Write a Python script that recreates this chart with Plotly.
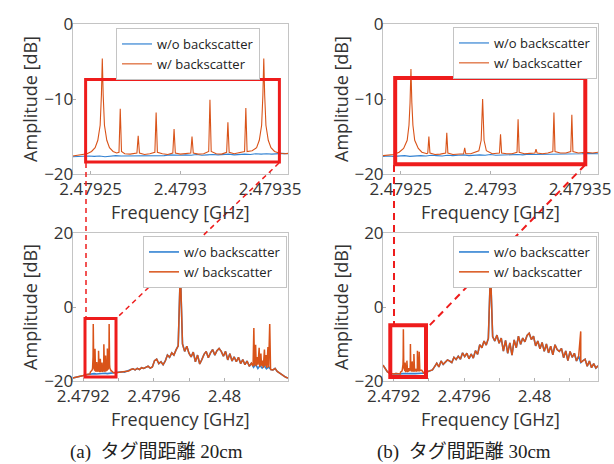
import numpy as np
import plotly.graph_objects as go

# ---------------- data ----------------
# wideband sweep (lower panels): frequency bins [GHz]
F_LO, F_HI, N_BINS = 2.47914, 2.48036, 101
base20 = [-19.2, -19.1, -19.0, -18.9, -18.7, -18.5, -18.3, -18.2, -18.1, -18.1,
          -18.0, -18.1, -18.0, -17.9, -18.0, -17.9, -18.0, -17.9, -17.9, -17.8,
          -17.8, -17.7, -17.6, -17.5, -17.6, -17.4, -17.3, -16.9, -16.7, -17.0,
          -16.6, -16.9, -16.4, -16.6, -16.3, -16.0, -16.5, -16.2, -14.5, -14.1,
          -15.3, -14.8, -15.6, -14.6, -13.0, -13.6, -12.4, -13.0, -11.6, -10.5,
          10.0, -10.0, -12.0, -10.6, -12.5, -13.5, -12.2, -14.8, -13.0, -15.4,
          -14.2, -12.8, -12.0, -13.7, -12.4, -11.5, -13.0, -11.8, -11.2, -12.0,
          -13.3, -12.0, -14.3, -12.6, -14.6, -13.5, -14.8, -13.6, -15.3, -14.2,
          -15.6, -14.6, -16.0, -15.2, -16.3, -15.5, -16.6, -15.8, -16.5, -15.9,
          -16.7, -16.2, -16.9, -17.0, -16.6, -17.4, -17.8, -18.3, -18.6, -19.0,
          -19.2]
base30 = [-15.7, -16.8, -17.5, -17.9, -18.1, -18.1, -18.0, -18.1, -18.1, -18.0,
          -18.1, -18.0, -18.0, -18.1, -18.0, -18.0, -17.9, -18.0, -17.9, -17.9,
          -17.8, -17.4, -17.2, -17.0, -16.1, -15.2, -16.2, -14.6, -15.5, -14.9,
          -14.3, -14.6, -15.0, -13.6, -14.2, -13.3, -14.1, -12.4, -13.4, -12.5,
          -14.0, -12.7, -13.8, -11.8, -12.8, -10.2, -11.0, -9.2, -10.3, -8.5,
          10.0, -8.0, -9.2, -7.6, -9.8, -8.4, -11.9, -9.0, -12.5, -9.7,
          -13.0, -8.9, -11.0, -7.9, -10.1, -8.4, -9.4, -7.7, -7.1, -8.8,
          -7.9, -10.5, -9.2, -11.3, -9.6, -12.0, -10.0, -12.4, -10.6, -12.9,
          -10.2, -11.5, -12.0, -11.2, -13.7, -11.9, -14.5, -12.0, -13.6, -12.5,
          -14.6, -13.3, -15.0, -14.5, -14.1, -16.0, -14.6, -16.4, -15.3, -16.5,
          -15.9]

# upper-sideband tag lines (20 cm) in wideband sweep
clus20_f = [2.4801620, 2.4801665, 2.4801700, 2.4801765, 2.4801800, 2.4801865, 2.4801900,
            2.4801965, 2.4802000, 2.4802065, 2.4802100, 2.4802165, 2.4802200, 2.4802265,
            2.4802300, 2.4802365, 2.4802400, 2.4802465, 2.4802500, 2.4802565, 2.4802610]
clus20_a = [-16.0, -5.7, -15.8, -10.2, -16.0, -13.5, -15.6,
            -11.0, -16.2, -12.6, -15.9, -14.5, -16.4, -11.5,
            -16.0, -13.0, -16.5, -10.8, -16.3, -4.6, -16.6]
# upper-sideband tag line (30 cm)
spur30_f = [2.480262]
spur30_a = [-6.6]

# zoomed sweep (upper panels)
Z_LO, Z_HI, Z_BINS = 2.47924, 2.47936, 41
zblue20 = [-17.7, -17.65, -17.7, -17.6, -17.65, -17.6, -17.7, -17.6, -17.55, -17.6,
           -17.6, -17.5, -17.6, -17.55, -17.5, -17.6, -17.5, -17.55, -17.45, -17.5,
           -17.5, -17.45, -17.5, -17.4, -17.5, -17.45, -17.4, -17.45, -17.4, -17.35,
           -17.45, -17.4, -17.35, -17.4, -17.3, -17.35, -17.3, -17.35, -17.3, -17.25,
           -17.3]
zblue30 = [-17.65, -17.6, -17.65, -17.6, -17.55, -17.65, -17.6, -17.55, -17.6, -17.5,
           -17.55, -17.6, -17.5, -17.55, -17.5, -17.45, -17.55, -17.5, -17.45, -17.5,
           -17.4, -17.5, -17.45, -17.4, -17.45, -17.4, -17.45, -17.35, -17.4, -17.4,
           -17.35, -17.4, -17.3, -17.35, -17.35, -17.3, -17.35, -17.3, -17.25, -17.3,
           -17.3]
zor20_f = [2.479240, 2.479242, 2.479245, 2.479248, 2.4792505, 2.4792525, 2.479254,
           2.4792553, 2.479256, 2.4792565, 2.479257, 2.4792577, 2.479259, 2.4792605,
           2.4792625, 2.4792645, 2.4792658, 2.4792665, 2.4792672, 2.479269, 2.479272,
           2.4792758, 2.4792765, 2.4792772, 2.479280, 2.479283, 2.4792858, 2.4792865,
           2.4792872, 2.479290, 2.479293, 2.4792958, 2.4792965, 2.4792972, 2.479300,
           2.479303, 2.4793058, 2.4793065, 2.4793072, 2.479310, 2.479313, 2.4793158,
           2.4793165, 2.4793172, 2.479320, 2.479323, 2.4793258, 2.4793265, 2.4793272,
           2.479330, 2.4793358, 2.4793365, 2.4793372, 2.479340, 2.4793425, 2.479344,
           2.4793453, 2.479346, 2.4793465, 2.479347, 2.4793477, 2.479349, 2.4793505,
           2.4793525, 2.479355, 2.479358, 2.479360]
zor20_a = [-17.6, -17.5, -17.45, -17.3, -17.0, -16.5, -15.5,
           -13.5, -9.5, -4.6, -9.5, -13.5, -15.5, -16.5,
           -17.0, -17.2, -17.1, -11.3, -17.0, -17.3, -17.35,
           -17.2, -14.9, -17.2, -17.4, -17.3, -17.1, -11.8,
           -17.1, -17.3, -17.4, -17.2, -14.0, -17.2, -17.35,
           -17.3, -17.2, -15.0, -17.2, -17.35, -17.3, -17.0,
           -10.1, -17.0, -17.3, -17.35, -17.1, -13.1, -17.1,
           -17.3, -17.0, -11.2, -17.0, -16.9, -16.5, -15.5,
           -13.5, -9.5, -4.6, -9.5, -13.5, -15.5, -16.5,
           -17.0, -17.2, -17.3, -17.25]
zor30_f = [2.479240, 2.479243, 2.479246, 2.479249, 2.4792515, 2.4792535, 2.4792545,
           2.4792551, 2.4792556, 2.4792561, 2.4792567, 2.4792577, 2.4792597, 2.4792617,
           2.4792645, 2.4792650, 2.4792656, 2.4792662, 2.479269, 2.479272, 2.479275,
           2.4792756, 2.4792762, 2.479279, 2.479282, 2.479285, 2.4792856, 2.4792862,
           2.479289, 2.4792935, 2.4792948, 2.4792956, 2.4792964, 2.4792977, 2.479301,
           2.479305, 2.4793056, 2.4793062, 2.479309, 2.479312, 2.4793148, 2.4793154,
           2.479316, 2.479319, 2.479322, 2.4793248, 2.4793254, 2.479326, 2.479329,
           2.479332, 2.4793348, 2.4793354, 2.479336, 2.479339, 2.479342, 2.4793448,
           2.4793454, 2.479346, 2.479349, 2.479353, 2.479357, 2.479360]
zor30_a = [-17.55, -17.5, -17.4, -17.1, -16.6, -15.5, -13.5,
           -10.5, -6.0, -10.5, -13.5, -15.5, -16.6, -17.1,
           -17.3, -17.2, -15.0, -17.2, -17.4, -17.35, -17.2,
           -14.5, -17.2, -17.4, -17.35, -17.3, -16.5, -17.3,
           -17.3, -16.9, -15.5, -10.0, -15.5, -16.9, -17.3,
           -17.2, -14.7, -17.2, -17.3, -17.3, -17.1, -12.7,
           -17.1, -17.3, -17.25, -17.2, -16.7, -17.2, -17.3,
           -17.2, -17.0, -11.8, -17.0, -17.2, -17.2, -17.0,
           -12.1, -17.0, -17.2, -17.1, -17.2, -17.1]

NAME_BLUE = "w/o backscatter"
NAME_OR = "w/ backscatter"
CAPTIONS = ["(a)\u2002タグ間距離 20cm", "(b)\u2002タグ間距離 30cm"]
TOP_TICKS = [2.47925, 2.4793, 2.47935]
TOP_TICKTEXT = ["2.47925", "2.4793", "2.47935"]
BOT_TICKS = [2.4792, 2.4794, 2.4796, 2.4798, 2.48, 2.4802]
BOT_TICKTEXT = ["2.4792", "", "2.4796", "", "2.48", ""]

# ---------------- assembly ----------------
grid = np.linspace(F_LO, F_HI, N_BINS)
zgrid = np.linspace(Z_LO, Z_HI, Z_BINS)


def merge(base_f, base_a, inserts, excl):
    pts = [(f, a) for f, a in zip(base_f, base_a)
           if not any(lo <= f <= hi for lo, hi in excl)]
    for fs, as_ in inserts:
        pts += list(zip(fs, as_))
    pts.sort(key=lambda p: p[0])
    return [p[0] for p in pts], [p[1] for p in pts]


or20_f, or20_a = merge(grid, base20, [(zor20_f, zor20_a), (clus20_f, clus20_a)],
                       [(Z_LO, Z_HI), (clus20_f[0], clus20_f[-1])])
or30_f, or30_a = merge(grid, base30, [(zor30_f, zor30_a), (spur30_f, spur30_a)],
                       [(Z_LO, Z_HI)])

BLUE = "#3282d2"
ORANGE = "#D95319"
W, H = 614, 464

fig = go.Figure()
panels = [
    ("x", "y", "legend", zgrid, zblue20, zor20_f, zor20_a, 1.1),
    ("x2", "y2", "legend2", zgrid, zblue30, zor30_f, zor30_a, 1.1),
    ("x3", "y3", "legend3", grid, base20, or20_f, or20_a, 1.5),
    ("x4", "y4", "legend4", grid, base30, or30_f, or30_a, 1.5),
]
for xa, ya, lg, bx, by, ox, oy, lw in panels:
    fig.add_trace(go.Scatter(x=bx, y=by, mode="lines", name=NAME_BLUE,
                             line=dict(color=BLUE, width=lw + 0.1), xaxis=xa, yaxis=ya,
                             legend=lg, hoverinfo="skip"))
    fig.add_trace(go.Scatter(x=ox, y=oy, mode="lines", name=NAME_OR,
                             line=dict(color=ORANGE, width=lw), xaxis=xa, yaxis=ya,
                             legend=lg, hoverinfo="skip"))

FONT = "Open Sans, Noto Sans, sans-serif"
AXB = dict(showline=True, mirror=True, linecolor="#c4c4c4", linewidth=1,
           ticks="inside", ticklen=3, tickcolor="#b0b0b0", showgrid=False,
           zeroline=False, tickfont=dict(family=FONT, size=17, color="#333333"),
           automargin=False)
AXX = dict(AXB, ticklabelstandoff=0)
AXY = dict(AXB, ticklabelstandoff=-5)
XT = dict(text="Frequency [GHz]", font=dict(family=FONT, size=18, color="#333333"), standoff=1)
YT = dict(text="Amplitude [dB]", font=dict(family=FONT, size=18, color="#333333"), standoff=1)

dl = [72.7 / W, 288 / W]
dr = [383 / W, 598 / W]
dtop = [1 - 174 / H, 1 - 24 / H]
dbot = [1 - 381 / H, 1 - 233 / H]

layout = dict(
    width=W, height=H, margin=dict(l=0, r=0, t=0, b=0),
    paper_bgcolor="white", plot_bgcolor="white",
    xaxis=dict(AXX, domain=dl, range=[Z_LO, Z_HI], tickvals=TOP_TICKS, ticktext=TOP_TICKTEXT,
               anchor="y", title=XT),
    yaxis=dict(AXY, domain=dtop, range=[-20, 0], tickvals=[-20, -10, 0], anchor="x", title=YT),
    xaxis2=dict(AXX, domain=dr, range=[Z_LO, Z_HI], tickvals=TOP_TICKS, ticktext=TOP_TICKTEXT,
                anchor="y2", title=XT),
    yaxis2=dict(AXY, domain=dtop, range=[-20, 0], tickvals=[-20, -10, 0], anchor="x2", title=YT),
    xaxis3=dict(AXX, domain=dl, range=[F_LO, F_HI], tickvals=BOT_TICKS, ticktext=BOT_TICKTEXT,
                anchor="y3", title=XT),
    yaxis3=dict(AXY, domain=dbot, range=[-20, 20], tickvals=[-20, 0, 20], anchor="x3", title=YT),
    xaxis4=dict(AXX, domain=dr, range=[F_LO, F_HI], tickvals=BOT_TICKS, ticktext=BOT_TICKTEXT,
                anchor="y4", title=XT),
    yaxis4=dict(AXY, domain=dbot, range=[-20, 20], tickvals=[-20, 0, 20], anchor="x4", title=YT),
)
LEG = dict(xanchor="left", yanchor="top", bgcolor="white", bordercolor="#c4c4c4",
           borderwidth=1, font=dict(family=FONT, size=13, color="#222222"),
           itemwidth=30, tracegroupgap=0)
layout["legend"] = dict(LEG, x=116 / W, y=1 - 28 / H)
layout["legend2"] = dict(LEG, x=453 / W, y=1 - 27 / H)
layout["legend3"] = dict(LEG, x=143 / W, y=1 - 236 / H)
layout["legend4"] = dict(LEG, x=453 / W, y=1 - 236 / H)
fig.update_layout(**layout)

# zoom-region boxes
RED = "#ee1c1c"
boxes = [
    ("x", "y", 2.4792472, 2.4793552, -18.4, -7.4, 3),
    ("x2", "y2", 2.4792468, 2.4793529, -18.7, -7.2, 4),
    ("x3", "y3", 2.4792097, 2.4793854, -18.9, -3.1, 3),
    ("x4", "y4", 2.4791814, 2.4793840, -18.9, -4.9, 4),
]
for xr, yr, x0, x1, y0, y1, lw in boxes:
    fig.add_shape(type="rect", xref=xr, yref=yr, x0=x0, x1=x1, y0=y0, y1=y1,
                  line=dict(color=RED, width=lw), layer="above")

# dashed connector lines (pixel positions -> paper)
conn = [
    (86, 163, 86, 318, 1.5, "5px,4px"),
    (279, 163, 116, 318.7, 1.5, "5px,4px"),
    (394, 165, 394, 325, 2, "7px,5px"),
    (585, 165, 428, 327, 2, "7px,5px"),
]
for xa, ya, xb, yb, lw, dash in conn:
    fig.add_shape(type="line", xref="paper", yref="paper",
                  x0=xa / W, y0=1 - ya / H, x1=xb / W, y1=1 - yb / H,
                  line=dict(color=RED, width=lw, dash=dash), layer="above")

for cx, txt in zip([156 / W, 464 / W], CAPTIONS):
    fig.add_annotation(x=cx, y=1 - 452 / H, xref="paper", yref="paper", text=txt,
                       showarrow=False, xanchor="center", yanchor="middle",
                       font=dict(family="Liberation Serif, Noto Sans CJK JP, serif",
                                 size=19, color="#222222"))

fig.write_html("out.html", config={"displayModeBar": False},
               post_script="document.body.style.margin='0px';document.body.style.padding='0px';")
